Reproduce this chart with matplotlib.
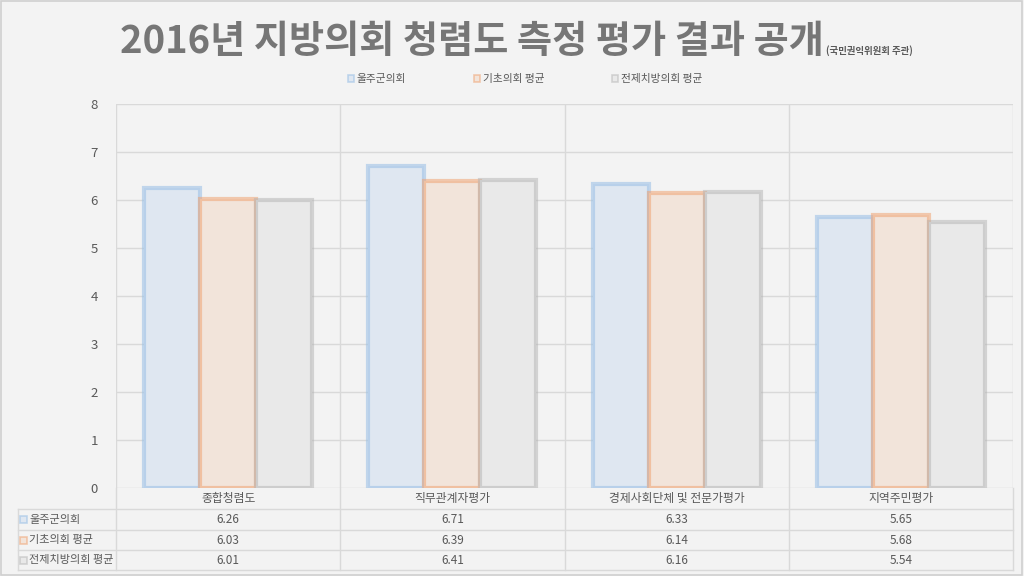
import matplotlib
matplotlib.use('Agg')
import matplotlib.pyplot as plt
import matplotlib.patches as mpatches
import matplotlib.transforms as mtransforms
import numpy as np

plt.rcParams['font.family'] = ['Noto Sans CJK KR', 'DejaVu Sans']

categories = ['종합청렴도', '직무관계자평가', '경제사회단체 및 전문가평가', '지역주민평가']
series_names = ['울주군의회', '기초의회 평균', '전제치방의회 평균']
ulju = [6.26, 6.71, 6.33, 5.65]
gicho = [6.03, 6.39, 6.14, 5.68]
jeonche = [6.01, 6.41, 6.16, 5.54]
values = [ulju, gicho, jeonche]

face_colors = ['#dfe7f1', '#f2e4da', '#e9e9e9']
edge_colors = [(0.62, 0.76, 0.90, 0.6), (0.94, 0.64, 0.45, 0.55), (0.70, 0.70, 0.70, 0.5)]
bg = '#f3f3f3'
grid_c = '#d9d9d9'
text_c = '#595959'

W, H = 1024, 576
fig = plt.figure(figsize=(10.24, 5.76), dpi=100, facecolor=bg)


def fx(px):
    return px / W


def fy(py):
    return 1 - py / H


ax = fig.add_axes([fx(116), fy(488), fx(1013 - 116), (488 - 104) / H])
ax.set_facecolor(bg)
x = np.arange(len(categories))
bw = 0.25
for i, vals in enumerate(values):
    ax.bar(x + (i - 1) * bw, vals, width=bw, color=face_colors[i],
           edgecolor=edge_colors[i], linewidth=3.0, zorder=3)

ax.set_xlim(-0.5, len(categories) - 0.5)
ax.set_ylim(0, 8)
ax.set_yticks(range(0, 9))
ax.set_xticks([])
ax.tick_params(axis='y', length=0, pad=13, labelsize=9.5, labelcolor=text_c)
ax.grid(axis='y', color=grid_c, linewidth=1, zorder=0)
for b in np.arange(-0.5, len(categories), 1.0):
    ax.axvline(b, color=grid_c, linewidth=1, zorder=0)
for s in ax.spines.values():
    s.set_visible(False)

# data table under the chart
tr = mtransforms.blended_transform_factory(ax.transData, fig.transFigure)
x_left = -0.5 - (116 - 18) / ((1013 - 116) / len(categories))
row_y = [488, 509, 530, 550, 570]
for k, py in enumerate(row_y[1:]):
    ax.plot([x_left, len(categories) - 0.5], [fy(py), fy(py)], transform=tr,
            color=grid_c, lw=1, clip_on=False)
ax.plot([x_left, x_left], [fy(509), fy(570)], transform=tr, color=grid_c, lw=1, clip_on=False)
for b in np.arange(-0.5, len(categories), 1.0):
    ax.plot([b, b], [fy(488), fy(570)], transform=tr, color=grid_c, lw=1, clip_on=False)

for j, c in enumerate(categories):
    ax.text(j, fy(498.5), c, transform=tr, ha='center', va='center',
            fontsize=8.5, color=text_c)
for i, vals in enumerate(values):
    yc = fy((row_y[i + 1] + row_y[i + 2]) / 2)
    for j, v in enumerate(vals):
        ax.text(j, yc, f'{v:.2f}', transform=tr, ha='center', va='center',
                fontsize=8.5, color=text_c)
    fig.patches.append(mpatches.Rectangle((fx(20), yc - 3.5 / H), 7 / W, 7 / H,
                                          transform=fig.transFigure,
                                          facecolor=face_colors[i],
                                          edgecolor=edge_colors[i], lw=1.2))
    fig.text(fx(29), yc, series_names[i], ha='left', va='center',
             fontsize=8, color=text_c)

# legend
handles = [mpatches.Patch(facecolor=face_colors[i], edgecolor=edge_colors[i],
                          lw=1.2, label=series_names[i]) for i in range(3)]
fig.legend(handles=handles, loc='center', bbox_to_anchor=(fx(525), fy(79)),
           ncol=3, frameon=False, fontsize=7.7, handlelength=0.6, handleheight=0.6,
           handletextpad=0.25, columnspacing=6.3, labelcolor=text_c)

# title
fig.text(fx(120), fy(42), '2016년 지방의회 청렴도 측정 평가 결과 공개', ha='left',
         va='center', fontsize=27.5, fontweight='bold', color='#767676')
fig.text(fx(826), fy(51), '(국민권익위원회 주관)', ha='left', va='center',
         fontsize=6.8, fontweight='bold', color='#595959')

fig.patches.append(mpatches.Rectangle((0.001, 0.002), 0.997, 0.996, transform=fig.transFigure,
                                      fill=False, edgecolor='#d0d0d0', lw=1.2))

fig.savefig('out.png', dpi=100, facecolor=bg)
